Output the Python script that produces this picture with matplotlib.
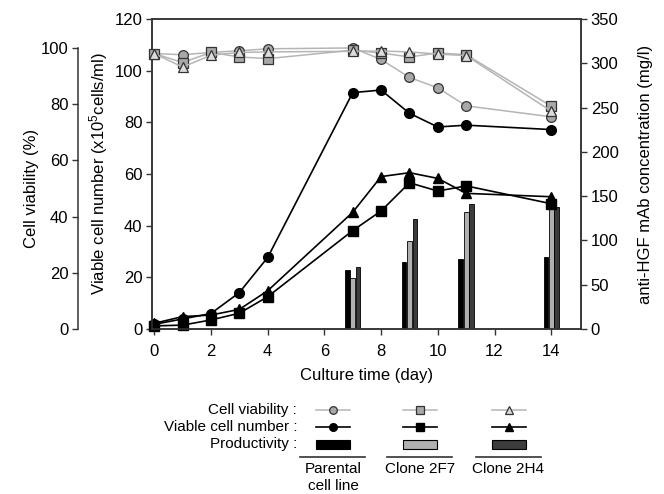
import matplotlib
matplotlib.use("Agg")
import matplotlib.pyplot as plt
from matplotlib.patches import Rectangle
from matplotlib.lines import Line2D

plt.rcParams['font.family'] = ['Liberation Sans', 'DejaVu Sans']
plt.rcParams['mathtext.default'] = 'regular'

# ---------------- data ----------------
days = [0, 1, 2, 3, 4, 7, 8, 9, 10, 11, 14]
viab_parental = [98.0, 97.6, 98.4, 99.0, 99.7, 100.0, 95.9, 89.5, 85.8, 79.4, 75.5]
viab_2f7 = [98.0, 94.8, 98.4, 96.8, 96.2, 99.2, 98.2, 96.8, 98.2, 97.6, 79.3]
viab_2h4 = [98.0, 93.2, 97.4, 98.4, 98.6, 98.8, 98.9, 98.6, 97.8, 97.3, 77.5]

vcn_parental = [1.8, 3.9, 6.0, 14.1, 27.7, 91.5, 92.5, 83.5, 78.2, 78.9, 77.2]
vcn_2f7 = [1.2, 1.5, 3.5, 6.1, 12.5, 38.1, 45.7, 56.6, 53.4, 55.4, 48.5]
vcn_2h4 = [2.2, 4.8, 5.4, 7.6, 14.8, 45.2, 59.0, 60.5, 58.3, 52.5, 51.2]

prod_days = [7, 9, 11, 14]
prod_parental = [66.6, 75.3, 79.0, 81.6]
prod_2f7 = [58.0, 99.7, 132.5, 145.0]
prod_2h4 = [69.7, 124.2, 140.8, 137.4]

groups = ["Parental\ncell line", "Clone 2F7", "Clone 2H4"]
x_ticks = [0, 2, 4, 6, 8, 10, 12, 14]

# ---------------- styles ----------------
GRAY_LINE = '#b5b5b5'
EDGE = '#333333'
markers = ['o', 's', '^']
viab_fill = ['#a8a8a8', '#a8a8a8', '#dcdcdc']
bar_colors = ['#000000', '#b0b0b0', '#3c3c3c']
spine_c = '#333333'
FS = 12
LFS = 12

W, H = 664, 494
fig = plt.figure(figsize=(W / 100, H / 100), dpi=100)

rect = [152 / W, 1 - 329 / H, (581 - 152) / W, (329 - 19) / H]
ax = fig.add_axes(rect)            # viable cell number (left)
axr = ax.twinx()                   # productivity (right)
axv = ax.twinx()                   # viability (offset left)

# layering: bars below lines
axr.set_zorder(0)
ax.set_zorder(1)
axv.set_zorder(2)
ax.patch.set_visible(False)
axv.patch.set_visible(False)

xlim = (-0.08, 15.05)
for a in (ax, axr, axv):
    a.set_xlim(*xlim)

# bars
offsets = [-0.19, 0.0, 0.19]
bw = 0.165
for vals, col, off in zip([prod_parental, prod_2f7, prod_2h4], bar_colors, offsets):
    axr.bar([d + off for d in prod_days], vals, width=bw, color=col,
            edgecolor='#000000', linewidth=0.6)
axr.set_ylim(0, 350)
axr.set_yticks(range(0, 351, 50))

# viable cell number
for vals, m in zip([vcn_parental, vcn_2f7, vcn_2h4], markers):
    ax.plot(days, vals, color='#000000', lw=1.2, marker=m, ms=7,
            mfc='#000000', mec='#000000', clip_on=False)
ax.set_ylim(0, 120)
ax.set_yticks(range(0, 121, 20))

# viability
for vals, m, fc in zip([viab_parental, viab_2f7, viab_2h4], markers, viab_fill):
    axv.plot(days, vals, color=GRAY_LINE, lw=1.1, marker=m, ms=7,
             mfc=fc, mec=EDGE, mew=0.9, clip_on=False)
vmax = 110.3
axv.set_ylim(0, vmax)
axv.set_yticks(range(0, 101, 20))

# spines
axv.spines['left'].set_visible(True)
axv.spines['left'].set_position(('outward', 74 * 72 / 100))
axv.spines['left'].set_bounds(0, 100)
axv.yaxis.set_ticks_position('left')
axv.yaxis.set_label_position('left')
for s in ['right', 'top', 'bottom']:
    axv.spines[s].set_visible(False)
axv.tick_params(axis='x', which='both', bottom=False, labelbottom=False)

for a in (ax, axr, axv):
    for s in a.spines.values():
        s.set_color(spine_c)
        s.set_linewidth(1.1)
    a.tick_params(direction='out', length=4, width=1, color=spine_c, labelsize=FS, pad=3)
ax.tick_params(axis='x', pad=7)

ax.set_xticks(x_ticks)
ax.set_xlabel('Culture time (day)', fontsize=LFS, labelpad=6)
ax.set_ylabel('Viable cell number (x10$^5$cells/ml)', fontsize=LFS, labelpad=3)
axv.set_ylabel('Cell viability (%)', fontsize=LFS)
axv.yaxis.set_label_coords((39 - 152) / (581 - 152), 50 / vmax)
axr.set_ylabel('anti-HGF mAb concentration (mg/l)', fontsize=LFS, labelpad=14)

# ---------------- custom legend ----------------
lg = fig.add_axes([0, 0, 1, 1])
lg.set_xlim(0, W)
lg.set_ylim(H, 0)
lg.axis('off')
lg.patch.set_visible(False)

row_y = [410, 427, 444]
row_labels = ['Cell viability :', 'Viable cell number :', 'Productivity :']
for y, t in zip(row_y, row_labels):
    lg.text(297, y, t, ha='right', va='center', fontsize=11)

col_x = [333, 420, 508.5]
half = 17
for i, cx in enumerate(col_x):
    lg.add_line(Line2D([cx - half, cx + half], [row_y[0], row_y[0]], color=GRAY_LINE, lw=1.1))
    lg.add_line(Line2D([cx], [row_y[0]], marker=markers[i], ms=5.5, mfc=viab_fill[i],
                       mec=EDGE, mew=0.9, ls='none'))
    lg.add_line(Line2D([cx - half, cx + half], [row_y[1], row_y[1]], color='#000000', lw=1.2))
    lg.add_line(Line2D([cx], [row_y[1]], marker=markers[i], ms=5.5, mfc='#000000',
                       mec='#000000', ls='none'))
    lg.add_patch(Rectangle((cx - half, row_y[2] - 4.5), 2 * half, 9, facecolor=bar_colors[i],
                           edgecolor='#000000', lw=0.8))
    lg.add_line(Line2D([cx - 33, cx + 32], [456.5, 456.5], color='#333333', lw=1.2))
    lg.text(cx, 462, groups[i], ha='center', va='top', fontsize=11, linespacing=1.25)

fig.savefig('out.png', dpi=100)
